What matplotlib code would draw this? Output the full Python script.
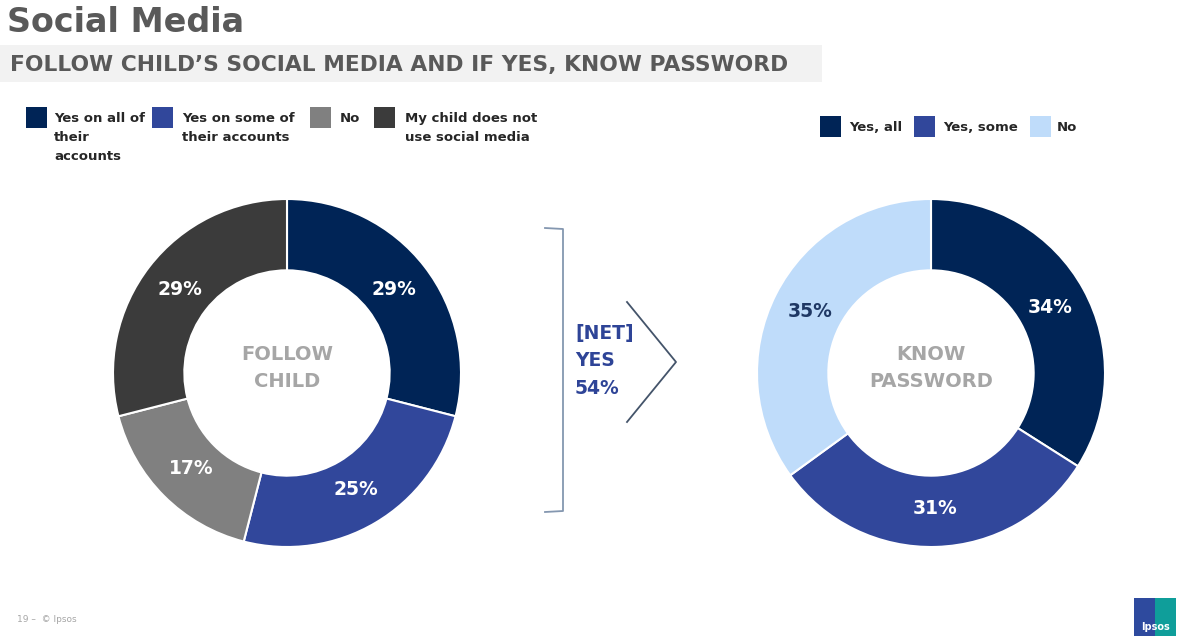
import matplotlib.pyplot as plt
from matplotlib.patches import Rectangle
from matplotlib.lines import Line2D

plt.rcParams['font.family'] = ['DejaVu Sans']

# data
follow_labels = ['Yes on all of\ntheir\naccounts', 'Yes on some of\ntheir accounts', 'No',
                 'My child does not\nuse social media']
follow_values = [29, 25, 17, 29]
follow_colors = ['#002456', '#31479b', '#808080', '#3b3b3b']
follow_text_colors = ['white', 'white', 'white', 'white']

password_labels = ['Yes, all', 'Yes, some', 'No']
password_values = [34, 31, 35]
password_colors = ['#002456', '#31479b', '#bfdcfa']
password_text_colors = ['white', 'white', '#1f3864']

net_yes = follow_values[0] + follow_values[1]

W, H = 1177, 638
fig = plt.figure(figsize=(W / 100, H / 100), dpi=100)


def fx(x):
    return x / W


def fy(y):
    return 1 - y / H


def donut(cx, cy, r, values, colors, text_colors, centre_text):
    ax = fig.add_axes([fx(cx - r), fy(cy + r), 2 * r / W, 2 * r / H])
    wedges, _, pcts = ax.pie(values, colors=colors, startangle=90, counterclock=False,
                             radius=1, autopct=lambda p: f'{p:.0f}%', pctdistance=0.78,
                             wedgeprops=dict(width=0.41, edgecolor='white', linewidth=1.5))
    for t, c in zip(pcts, text_colors):
        t.set_color(c)
        t.set_fontsize(13.5)
        t.set_fontweight('bold')
    ax.text(0, 0.03, centre_text, ha='center', va='center', fontsize=14, fontweight='bold',
            color='#a6a6a6', linespacing=1.55)
    ax.set_xlim(-1, 1)
    ax.set_ylim(-1, 1)
    ax.axis('off')
    return ax


donut(287, 373, 174, follow_values, follow_colors, follow_text_colors, 'FOLLOW\nCHILD')
donut(931, 373, 174, password_values, password_colors, password_text_colors, 'KNOW\nPASSWORD')

# titles
fig.text(fx(7), fy(23), 'Social Media', fontsize=24, fontweight='bold', color='#595959',
         va='center', ha='left')
fig.patches.append(Rectangle((0, fy(82)), fx(822), 37 / H, transform=fig.transFigure,
                             facecolor='#f2f2f2', edgecolor='none', zorder=0))
fig.text(fx(10), fy(65), "FOLLOW CHILD’S SOCIAL MEDIA AND IF YES, KNOW PASSWORD",
         fontsize=15.7, fontweight='bold', color='#595959', va='center', ha='left')

# legends
def legend_row(labels, colors, box_x, text_x, top):
    for lab, col, bx, tx in zip(labels, colors, box_x, text_x):
        fig.patches.append(Rectangle((fx(bx), fy(top + 21)), 21 / W, 21 / H,
                                     transform=fig.transFigure, facecolor=col,
                                     edgecolor='none'))
        fig.text(fx(tx), fy(top + 5), lab, fontsize=9.5, fontweight='bold', color='#262626',
                 va='top', ha='left', linespacing=1.6)


legend_row(follow_labels, follow_colors, [26, 152, 310, 374], [54, 182, 340, 405], 107)
legend_row(password_labels, password_colors, [820, 914, 1030], [849, 943, 1057], 116)

# bracket and arrow between the charts
bracket_x = [fx(545), fx(563), fx(563), fx(545)]
bracket_y = [fy(228), fy(229), fy(511), fy(512)]
fig.lines.append(Line2D(bracket_x, bracket_y, transform=fig.transFigure,
                        color='#8497b0', linewidth=1.3))
fig.lines.append(Line2D([fx(627), fx(676), fx(627)], [fy(302), fy(362), fy(422)],
                        transform=fig.transFigure, color='#44546a', linewidth=1.3))
fig.text(fx(575), fy(361), f'[NET]\nYES\n{net_yes}%', fontsize=13.5, fontweight='bold',
         color='#2e4497', va='center', ha='left', linespacing=1.6)

# footer
fig.text(fx(17), fy(620), '19 –  © Ipsos', fontsize=6.5, color='#a6a6a6', va='center')
fig.patches.append(Rectangle((fx(1134), fy(636)), 21 / W, 38 / H, transform=fig.transFigure,
                             facecolor='#2e4a9e', edgecolor='none'))
fig.patches.append(Rectangle((fx(1155), fy(636)), 21 / W, 38 / H, transform=fig.transFigure,
                             facecolor='#0f9e9a', edgecolor='none'))
fig.text(fx(1155), fy(627), 'Ipsos', fontsize=7, fontweight='bold', color='white',
         ha='center', va='center')

fig.savefig('out.png', dpi=100)
